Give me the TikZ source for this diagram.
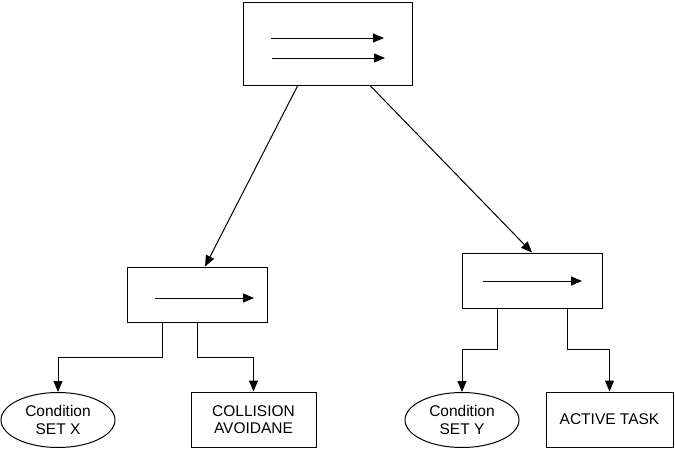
\documentclass[tikz,border=0pt]{standalone}
\usepackage{fontspec}
\setmainfont{Liberation Sans}
\usetikzlibrary{arrows.meta,calc,shapes.geometric}
\begin{document}
\begin{tikzpicture}[x=1pt,y=-1pt,
  box/.style={draw,line width=1pt,inner sep=0pt,minimum width=#1},
  oval/.style={draw,ellipse,line width=1pt,inner sep=0pt,minimum width=114pt,minimum height=55pt,align=center,font=\fontsize{15.5}{17.5}\selectfont},
  lbl/.style={align=center,font=\fontsize{15.5}{17.5}\selectfont},
  conn/.style={line width=1pt,-{Triangle[length=11pt,width=9pt]}},
  inarrow/.style={line width=1pt,-{Triangle[length=11pt,width=9pt]}}]
\useasboundingbox (0,0) rectangle (675,450);
% boxes
\node[box=169pt,minimum height=83pt] (top) at (327.5,43.5) {};
\node[box=140pt,minimum height=55pt] (lm) at (197,294.5) {};
\node[box=140pt,minimum height=55pt] (rm) at (532,280.5) {};
\node[oval] (ex) at (58,420) {Condition\\SET X};
\node[box=125pt,minimum height=55pt,lbl] (col) at (253.5,419.5) {COLLISION\\AVOIDANE};
\node[oval] (ey) at (462,420) {Condition\\SET Y};
\node[box=127pt,minimum height=55pt,lbl] (act) at (609.5,419.5) {ACTIVE TASK};
% inner arrows
\coordinate (t1a) at (271,38); \coordinate (t1b) at (384,38);
\coordinate (t2a) at (272,58); \coordinate (t2b) at (385,58);
\coordinate (l1a) at (155,298); \coordinate (l1b) at (254,298);
\coordinate (r1a) at (483,281); \coordinate (r1b) at (582,281);
\draw[inarrow] (t1a) -- (t1b);
\draw[inarrow] (t2a) -- (t2b);
\draw[inarrow] (l1a) -- (l1b);
\draw[inarrow] (r1a) -- (r1b);
% connectors top -> mid
\coordinate (tA) at ($(top.south west)!0.325!(top.south east)$);
\coordinate (tB) at ($(top.south west)!0.75!(top.south east)$);
\coordinate (lmT) at ($(lm.north west)!0.557!(lm.north east)$);
\draw[conn] (tA) -- (lmT);
\draw[conn] (tB) -- (rm.north);
% mid -> bottom
\coordinate (lA) at ($(lm.south west)!0.257!(lm.south east)$);
\coordinate (rA) at ($(rm.south west)!0.257!(rm.south east)$);
\coordinate (rB) at ($(rm.south west)!0.75!(rm.south east)$);
\draw[conn] (lA) -- ++(0,35) -| (ex.north);
\draw[conn] (lm.south) -- ++(0,35) -| (col.north);
\draw[conn] (rA) -- ++(0,41) -| (ey.north);
\draw[conn] (rB) -- ++(0,41) -| (act.north);
\end{tikzpicture}
\end{document}
